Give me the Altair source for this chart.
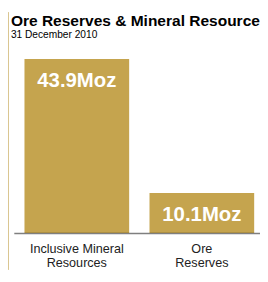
import altair as alt
import pandas as pd

# ---- data ----
categories = ["Inclusive Mineral|Resources", "Ore|Reserves"]
values = [43.9, 10.1]
value_labels = ["43.9Moz", "10.1Moz"]

title_text = "Ore Reserves & Mineral Resources"
subtitle_text = "31 December 2010"

df = pd.DataFrame({"category": categories, "value": values, "label": value_labels})
frame_df = pd.DataFrame({"k": [0]})

FONT = "Liberation Sans"
GOLD = "#C5A44E"
FRAME = "#D9C48C"

x = alt.X(
    "category:N",
    sort=None,
    title=None,
    scale=alt.Scale(paddingInner=0.1628, paddingOuter=0.0853),
    axis=alt.Axis(
        labelAngle=0,
        labelExpr="split(datum.label, '|')",
        ticks=False,
        grid=False,
        domainColor="black",
        domainOpacity=0.5,
        domainWidth=1.5,
        labelFont=FONT,
        labelFontSize=13,
        labelColor="#222222",
        labelLineHeight=15,
        labelPadding=10,
        zindex=1,
    ),
)
y = alt.Y("value:Q", scale=alt.Scale(domain=[0, 45], nice=False, zero=True), axis=None)

bars = alt.Chart(df).mark_bar(color=GOLD).encode(x=x, y=y)
text = alt.Chart(df).mark_text(
    color="white", font=FONT, fontSize=21, fontWeight="bold",
    baseline="alphabetic", dy=29,
).encode(x=x, y=y, text="label:N")
frame = alt.Chart(frame_df).mark_rule(color=FRAME, strokeWidth=1).encode(
    x=alt.value(-5.5), y=alt.value(-44), y2=alt.value(222)
)

chart = alt.layer(frame, bars, text).properties(
    width=259,
    height=184,
    padding={"left": 6, "top": 44, "right": -5, "bottom": 38},
    autosize=alt.AutoSizeParams(type="none"),
    title=alt.Title(
        text=title_text,
        subtitle=subtitle_text,
        anchor="start",
        frame="group",
        dx=-3,
        font=FONT,
        fontSize=16,
        fontWeight="bold",
        color="black",
        subtitleFont=FONT,
        subtitleFontSize=10.5,
        subtitleColor="black",
        subtitlePadding=1,
        offset=-29.5,
    ),
).configure_view(stroke=None)

chart.save("out.html", embed_options={"renderer": "svg", "actions": False})
